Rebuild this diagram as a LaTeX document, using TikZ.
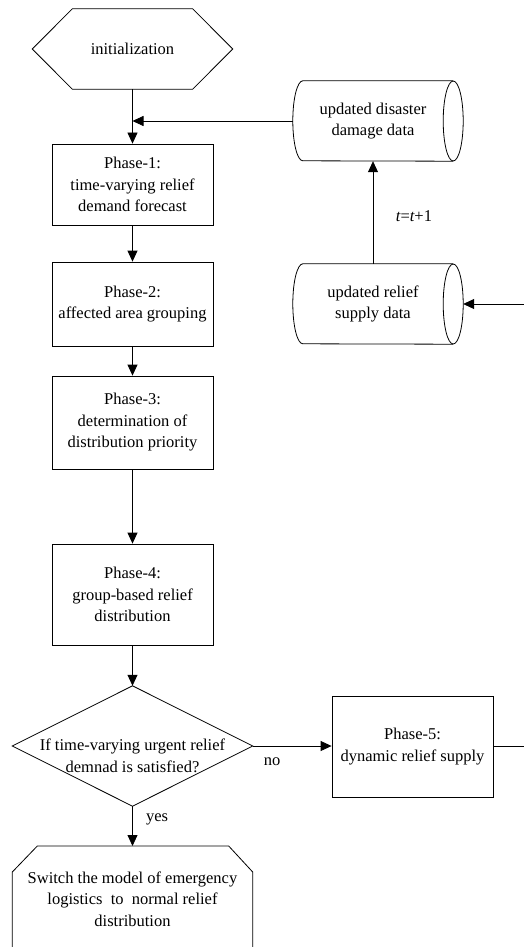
\documentclass[tikz,border=0pt]{standalone}
\usepackage{fontspec}
\setmainfont{Liberation Serif}
\usetikzlibrary{arrows.meta,calc}
\begin{document}
\begin{tikzpicture}[x=1pt,y=-1pt,
  every node/.style={font=\fontsize{16.5}{21.5}\selectfont, align=center, inner sep=0pt},
  box/.style={draw, line width=0.8pt, rectangle, minimum width=161pt},
  ghost/.style={rectangle, inner sep=0pt},
  line/.style={line width=0.8pt},
  arr/.style={line, -{Triangle[length=11pt,width=10pt]}},
]
\useasboundingbox (0,0) rectangle (524,947);
\clip (0,0) rectangle (524,947);

% initialization hexagon
\node[ghost, minimum width=200pt, minimum height=80pt] (init) at (132.5,49) {initialization};
\draw[line] (init.west) -- ($(init.north west)+(40,0)$) -- ($(init.north east)+(-40,0)$) -- (init.east)
  -- ($(init.south east)+(-40,0)$) -- ($(init.south west)+(40,0)$) -- cycle;

% phases
\node[box, minimum height=81pt] (p1) at (132.5,184.5) {Phase-1:\\time-varying relief\\demand forecast};
\node[box, minimum height=84pt] (p2) at (132.5,304) {Phase-2:\\affected area grouping};
\node[box, minimum height=93pt] (p3) at (132.5,422.5) {Phase-3:\\determination of\\distribution priority};
\node[box, minimum height=101pt] (p4) at (132.5,594.5) {Phase-4:\\group-based relief\\distribution};

% decision diamond
\node[ghost, minimum width=240pt, minimum height=120pt] (dec) at (132.5,746) {};
\draw[line] (dec.west) -- (dec.north) -- (dec.east) -- (dec.south) -- cycle;
\node (dect) at (132.5,756) {If time-varying urgent relief\\demnad is satisfied?};

% phase 5
\node[box, minimum height=101pt] (p5) at (412.5,746.5) {Phase-5:\\dynamic relief supply};

% switch octagon
\node[ghost, minimum width=240pt, minimum height=160pt, anchor=north] (sw) at (132.5,846) {};
\draw[line] ($(sw.north west)+(25,0)$) -- ($(sw.north east)+(-24,0)$) -- ($(sw.north east)+(0,26)$)
  -- ($(sw.south east)+(0,-26)$) -- ($(sw.south east)+(-24,0)$) -- ($(sw.south west)+(25,0)$)
  -- ($(sw.south west)+(0,-26)$) -- ($(sw.north west)+(0,26)$) -- cycle;
\node (swt) at (132.5,899) {Switch the model of emergency\\logistics~~to~~normal relief\\distribution};

% cylinders
\node[ghost, minimum width=160pt, minimum height=80pt] (dmg) at (373,121) {updated disaster\\damage data};
\draw[line] (dmg.north east) -- ($(dmg.north west)+(10,0)$)
  arc[start angle=90, end angle=270, x radius=10pt, y radius=40pt] -- (dmg.south east);
\draw[line] (dmg.east) ellipse [x radius=10pt, y radius=40pt];

\node[ghost, minimum width=160pt, minimum height=80pt] (sup) at (373,304) {updated relief\\supply data};
\draw[line] (sup.north east) -- ($(sup.north west)+(10,0)$)
  arc[start angle=90, end angle=270, x radius=10pt, y radius=40pt] -- (sup.south east);
\draw[line] (sup.east) ellipse [x radius=10pt, y radius=40pt];
\coordinate (supin) at ($(sup.east)+(10,0)$);
\coordinate (rt) at (545,0);

% labels
\node (tt) at (414,216) {\itshape t\upshape =\itshape t\upshape +1};
\node (yes) at (157,819) {yes};
\node (no) at (272,762) {no};

% connectors
\draw[arr] (init.south) -- (p1.north);
\draw[arr] (dmg.west) -- (dmg.west -| init.south);
\draw[arr] (p1.south) -- (p2.north);
\draw[arr] (p2.south) -- (p3.north);
\draw[arr] (p3.south) -- (p4.north);
\draw[arr] (p4.south) -- (dec.north);
\draw[arr] (dec.south) -- (sw.north);
\draw[arr] (dec.east) -- (dec.east -| p5.west);
\draw[arr] (sup.north) -- (dmg.south);
\draw[arr] (p5.east) -- (p5.east -| rt) -- (rt |- supin) -- (supin);
\end{tikzpicture}
\end{document}
